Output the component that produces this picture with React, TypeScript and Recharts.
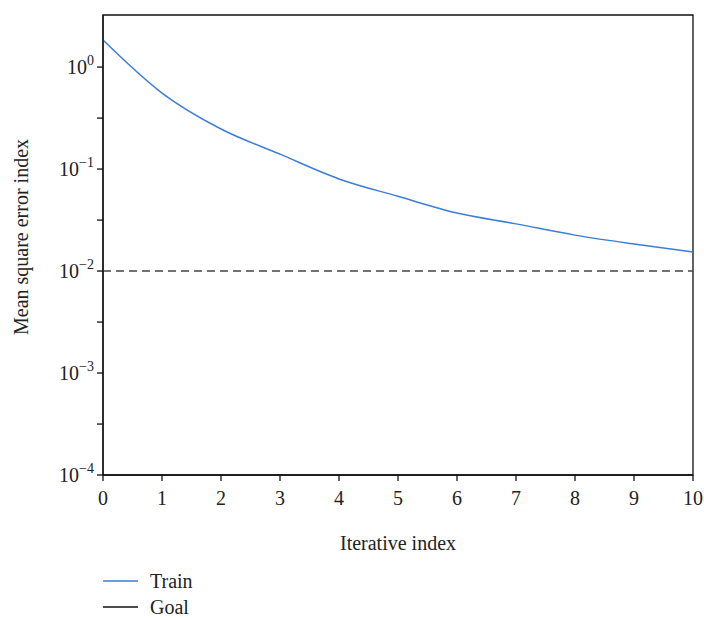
import React from 'react'
import {
  LineChart,
  Line,
  XAxis,
  YAxis,
  ReferenceLine,
  ReferenceArea,
  Legend,
  Label,
} from 'recharts'

// iteration index and the training error at each step
const iterations = [0, 1, 2, 3, 4, 5, 6, 7, 8, 9, 10]
const trainError = [1.84, 0.556, 0.247, 0.14, 0.08, 0.054, 0.037, 0.029, 0.0225, 0.0184, 0.0154]
const goal = 0.01

const xTicks = [0, 1, 2, 3, 4, 5, 6, 7, 8, 9, 10]
const yTicks = [1, 0.316, 0.1, 0.0316, 0.01, 0.00316, 0.001, 0.000316, 0.0001]

const FONT = '"Liberation Serif", "DejaVu Serif", serif'
const FS = 20

const data = iterations.map((it, i) => ({ it, train: trainError[i] }))

function YTick({ x, y, payload }: any) {
  const v = payload.value
  const p = Math.log10(v)
  const e = Math.round(p)
  if (Math.abs(p - e) > 1e-3) return null
  const sup = e === 0 ? '0' : '\u2212' + Math.abs(e)
  return (
    <text x={x - 1} y={y + 7} textAnchor="end" fontFamily={FONT} fontSize={FS} fill="#222">
      10
      <tspan dy={-9} fontSize={14}>{sup}</tspan>
    </text>
  )
}

function LegendBox() {
  const items = [
    { name: 'Train', color: '#3b7dd8' },
    { name: 'Goal', color: '#111' },
  ]
  return (
    <div style={{ fontFamily: FONT, fontSize: FS, color: '#222' }}>
      {items.map(d => (
        <div key={d.name} style={{ display: 'flex', alignItems: 'center', height: 26 }}>
          <svg width={36} height={4} style={{ marginRight: 11 }}>
            <line x1={0} y1={2} x2={35} y2={2} stroke={d.color} strokeWidth={1.5} />
          </svg>
          <span>{d.name}</span>
        </div>
      ))}
    </div>
  )
}

export default function App() {
  return (
    <div style={{ position: 'absolute', left: 0, top: 0, width: 704, height: 620, background: '#fff' }}>
      <LineChart width={704} height={620} data={data} margin={{ top: 15, right: 11, left: 0, bottom: 0 }}>
        <XAxis
          dataKey="it"
          type="number"
          domain={[0, 10]}
          ticks={xTicks}
          height={145}
          tick={{ fontFamily: FONT, fontSize: FS, fill: '#222' }}
          tickMargin={10}
          stroke="#111"
          strokeWidth={1.3}
          allowDataOverflow
        >
          <Label
            content={({ viewBox }: any) => (
              <text
                x={viewBox.x + viewBox.width / 2}
                y={viewBox.y + 75}
                textAnchor="middle"
                fontFamily={FONT}
                fontSize={FS}
                fill="#222"
              >
                Iterative index
              </text>
            )}
          />
        </XAxis>
        <YAxis
          scale="log"
          type="number"
          domain={[0.0001, 3.24]}
          ticks={yTicks}
          width={103}
          tick={<YTick />}
          stroke="#111"
          strokeWidth={1.3}
          allowDataOverflow
          interval={0}
        >
          <Label
            content={({ viewBox }: any) => (
              <text
                x={28}
                y={viewBox.y + viewBox.height / 2 - 8}
                transform={`rotate(-90 28 ${viewBox.y + viewBox.height / 2 - 8})`}
                textAnchor="middle"
                fontFamily={FONT}
                fontSize={FS}
                fill="#222"
              >
                Mean square error index
              </text>
            )}
          />
        </YAxis>
        <ReferenceArea x1={0} x2={10} y1={0.0001} y2={3.24} fill="none" stroke="#111" strokeWidth={1.3} />
        <ReferenceLine y={goal} stroke="#444" strokeWidth={1.5} strokeDasharray="8 5" />
        <Line
          type="monotone"
          dataKey="train"
          stroke="#3b7dd8"
          strokeWidth={1.5}
          dot={false}
          isAnimationActive={false}
        />
        <Legend
          layout="vertical"
          align="center"
          verticalAlign="middle"
          content={<LegendBox />}
          wrapperStyle={{ position: 'absolute', left: 103, top: 568, width: 200 }}
        />
      </LineChart>
    </div>
  )
}
